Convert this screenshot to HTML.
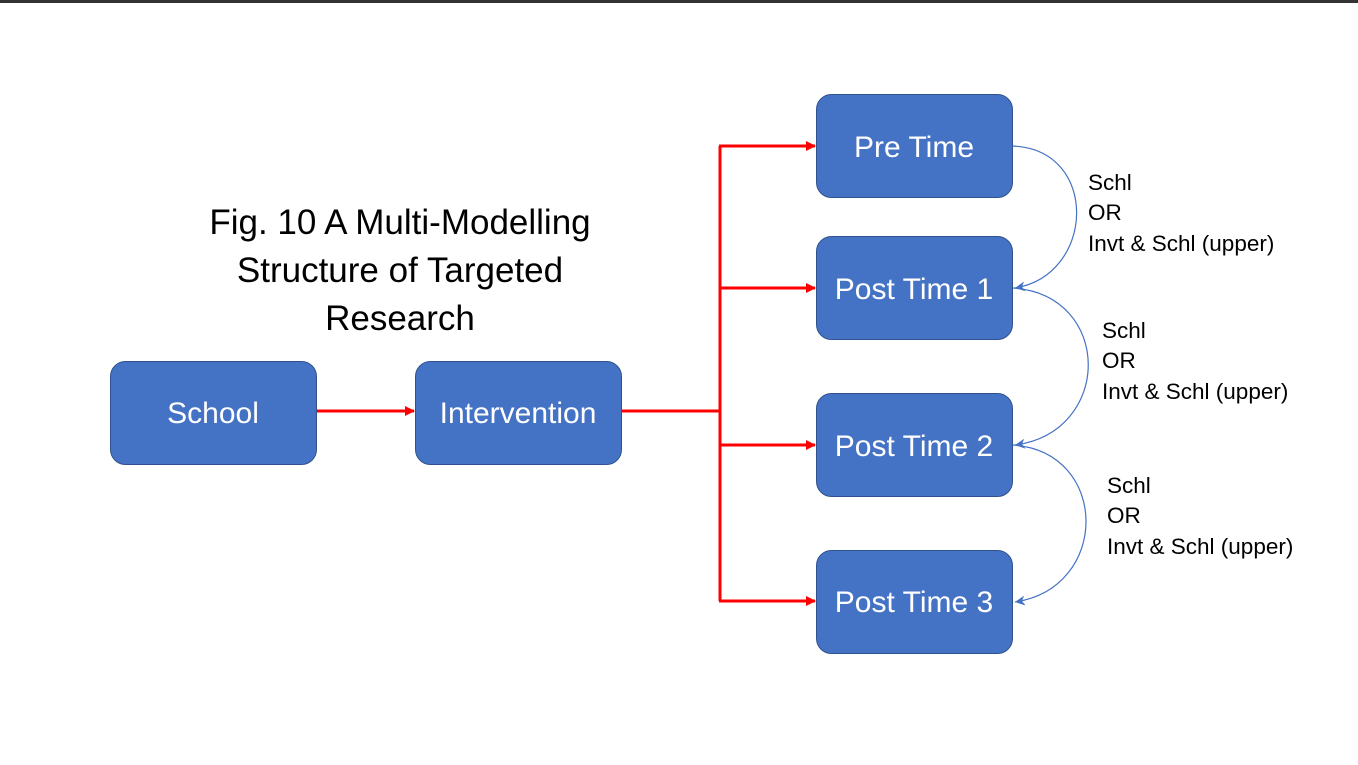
<!DOCTYPE html>
<html><head><meta charset="utf-8"><style>
html,body{margin:0;padding:0;background:#fff;}
svg{display:block;}
text{font-family:"Liberation Sans",sans-serif;}
</style></head><body>
<svg width="1358" height="765" viewBox="0 0 1358 765" xmlns="http://www.w3.org/2000/svg">
<defs>
<marker id="ra" markerWidth="10" markerHeight="10" refX="9" refY="5" orient="auto" markerUnits="userSpaceOnUse"><path d="M0,0 L10,5 L0,10 z" fill="#ff0000"/></marker>
<marker id="ba" markerWidth="12" markerHeight="10" refX="10" refY="5" orient="auto" markerUnits="userSpaceOnUse"><path d="M0,0 L10,5 L0,10 L3,5 z" fill="#4472c4"/></marker>
</defs>
<rect x="0" y="0" width="1358" height="3" fill="#333"/>
<g fill="#4472c4" stroke="#2f528f" stroke-width="1">
<rect x="110.5" y="361.5" width="206" height="103" rx="15"/>
<rect x="415.5" y="361.5" width="206" height="103" rx="15"/>
<rect x="816.5" y="94.5" width="196" height="103" rx="15"/>
<rect x="816.5" y="236.5" width="196" height="103" rx="15"/>
<rect x="816.5" y="393.5" width="196" height="103" rx="15"/>
<rect x="816.5" y="550.5" width="196" height="103" rx="15"/>
</g>
<g stroke="#ff0000" stroke-width="3" fill="none">
<line x1="317" y1="411" x2="414" y2="411" marker-end="url(#ra)"/>
<line x1="622" y1="411" x2="720" y2="411"/>
<polyline points="720,146 720,601"/>
<line x1="719" y1="146" x2="815" y2="146" marker-end="url(#ra)"/>
<line x1="719" y1="288" x2="815" y2="288" marker-end="url(#ra)"/>
<line x1="719" y1="445" x2="815" y2="445" marker-end="url(#ra)"/>
<line x1="719" y1="601" x2="815" y2="601" marker-end="url(#ra)"/>
</g>
<g stroke="#4472c4" stroke-width="1.2" fill="none">
<path d="M1013,146 C1100,150 1095,275 1015,288" marker-end="url(#ba)"/>
<path d="M1013,288 C1113,295 1113,432 1015,445" marker-end="url(#ba)"/>
<path d="M1013,445 C1110,452 1110,588 1015,602" marker-end="url(#ba)"/>
</g>
<g fill="#fff" font-size="30" text-anchor="middle">
<text x="213" y="423">School</text>
<text x="518" y="423">Intervention</text>
<text x="914" y="157">Pre Time</text>
<text x="914" y="299">Post Time 1</text>
<text x="914" y="456">Post Time 2</text>
<text x="914" y="612">Post Time 3</text>
</g>
<g fill="#000" font-size="35" text-anchor="middle">
<text x="400" y="234">Fig. 10 A Multi-Modelling</text>
<text x="400" y="282">Structure of Targeted</text>
<text x="400" y="330">Research</text>
</g>
<g fill="#000" font-size="22.5">
<text x="1088" y="190">Schl</text>
<text x="1088" y="220">OR</text>
<text x="1088" y="251">Invt &amp; Schl (upper)</text>
<text x="1102" y="338">Schl</text>
<text x="1102" y="368">OR</text>
<text x="1102" y="399">Invt &amp; Schl (upper)</text>
<text x="1107" y="493">Schl</text>
<text x="1107" y="523">OR</text>
<text x="1107" y="554">Invt &amp; Schl (upper)</text>
</g>
</svg>
</body></html>
